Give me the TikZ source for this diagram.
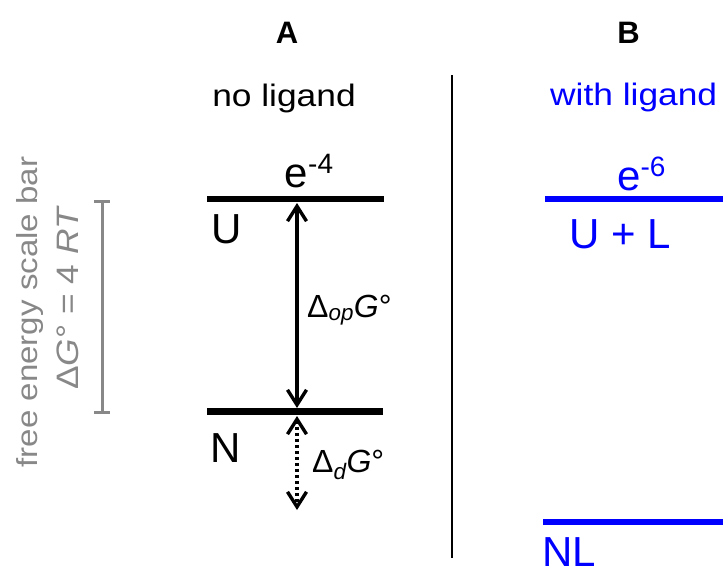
\documentclass[tikz,border=0pt]{standalone}
\usepackage{fontspec}
\setmainfont{Liberation Sans}
\newfontfamily\widefont{Liberation Sans}[FakeStretch=1.14]
\usetikzlibrary{arrows.meta}
\definecolor{scalegray}{RGB}{136,136,136}
\begin{document}
\begin{tikzpicture}[x=1pt,y=-1pt,
  level/.style={line width=6.3pt},
  bluelevel/.style={line width=6.3pt,blue},
  lbl/.style={inner sep=0pt,anchor=base west,font=\fontsize{42}{48}\selectfont},
  head/.style={inner sep=0pt,anchor=base,font=\widefont\fontsize{31}{36}\selectfont},
  panel/.style={inner sep=0pt,anchor=base,font=\bfseries\fontsize{31}{36}\selectfont},
  dlabel/.style={inner sep=0pt,anchor=base west,font=\fontsize{32}{36}\selectfont},
  dbl/.style={line width=3.6pt,<->,>={Straight Barb[length=15pt,width=19pt,line width=3.4pt]}},
  graytxt/.style={inner sep=0pt,anchor=base,rotate=90,text=scalegray,font=\widefont\fontsize{29}{34}\selectfont}
]
\useasboundingbox (0,0) rectangle (723,571);

% panel titles
\node[panel] (A) at (287,43.5) {A};
\node[panel] (B) at (628.5,43.5) {B};
\node[head] (noL) at (284,106) {no ligand};
\node[head,anchor=base west,text=blue] (withL) at (550,105) {with ligand};

% separator
\coordinate (sepT) at (452,75);
\coordinate (sepB) at (452,558);
\draw[line width=2pt] (sepT) -- (sepB);

% scale bar
\coordinate (barT) at (102,201);
\coordinate (barB) at (102,412);
\draw[scalegray,line width=3pt] (barT) -- (barB);
\draw[scalegray,line width=3pt] ([xshift=-8pt]barT) -- ([xshift=8pt]barT);
\draw[scalegray,line width=3pt] ([xshift=-8pt]barB) -- ([xshift=8pt]barB);
\node[graytxt] (fe) at (37,312) {free energy scale bar};
\node[graytxt,font=\widefont\fontsize{31}{36}\selectfont] (dg) at (78,298) {Δ\textit{G}° = 4 \textit{RT}};

% panel A levels
\coordinate (UL) at (207,199);
\coordinate (UR) at (384,199);
\coordinate (NLa) at (207,411.5);
\coordinate (NRa) at (383,411.5);
\draw[level] (UL) -- (UR);
\draw[level] (NLa) -- (NRa);
\node[lbl,anchor=base] (e4) at (309,187) {e\raisebox{0pt}[0pt][0pt]{\fontsize{28}{30}\selectfont\raisebox{14pt}{-4}}};
\node[lbl] (U) at (211,243) {U};
\node[lbl] (N) at (210,462) {N};

\coordinate (opT) at (297,203);
\coordinate (opB) at (297,408);
\draw[dbl] (opT) -- (opB);
\coordinate (dT) at (297,416);
\coordinate (dB) at (297,510);
\draw[dbl,dash pattern=on 3pt off 3pt] (dT) -- (dB);

\node[dlabel] (op) at (307,317) {Δ\textsubscript{\itshape op}\textit{G}°};
\node[dlabel] (d) at (312,472) {Δ\textsubscript{\itshape d}\textit{G}°};

% panel B levels
\coordinate (ULb) at (545,199);
\coordinate (URb) at (723,199);
\coordinate (NLb) at (543,522);
\coordinate (NRb) at (723,522);
\draw[bluelevel] (ULb) -- (URb);
\draw[bluelevel] (NLb) -- (NRb);
\node[lbl,text=blue] (e6) at (617,190) {e\raisebox{0pt}[0pt][0pt]{\fontsize{28}{30}\selectfont\raisebox{14pt}{-6}}};
\node[lbl,text=blue] (UplusL) at (569,248) {U + L};
\node[lbl,text=blue] (NLlab) at (542,566) {NL};
\end{tikzpicture}
\end{document}
